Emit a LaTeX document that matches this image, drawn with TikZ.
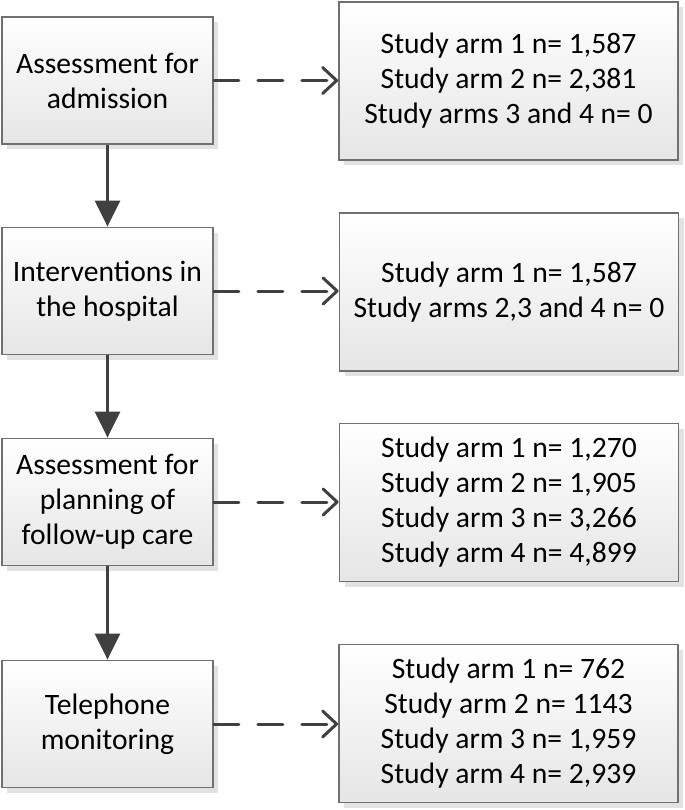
\documentclass[tikz,border=0pt]{standalone}
\usepackage{fontspec}
\setmainfont{Carlito}
\usetikzlibrary{arrows.meta,shadows}
\definecolor{boxline}{HTML}{707070}
\definecolor{arrowcol}{HTML}{404040}
\definecolor{shadowcol}{HTML}{E2E2E2}
\begin{document}
\begin{tikzpicture}[x=0.5pt,y=-0.5pt,
  basebox/.style={draw=boxline, line width=0.9pt, rectangle, inner sep=0pt,
    top color=white, bottom color=black!10, align=center,
    font=\fontsize{14.8pt}{17.5pt}\selectfont,
    drop shadow={shadow xshift=2.5pt, shadow yshift=-2.5pt, fill=shadowcol, opacity=1}},
  leftbox/.style={basebox, minimum width=105.5pt, minimum height=63.5pt},
  rightbox/.style={basebox, minimum width=169.5pt, minimum height=79pt},
  vflow/.style={draw=arrowcol, fill=arrowcol, line width=1.5pt, -{Triangle[length=13pt,width=12.5pt]}},
  dflow/.style={draw=arrowcol, line width=1.5pt, line cap=round, dash pattern=on 12.5pt off 9.5pt,
    -{Straight Barb[length=7pt,width=13pt,line cap=round,line join=round]}}
]
\useasboundingbox (0,0) rectangle (685,810);

\node[leftbox] (l1) at (107.5,80.5) {Assessment for\\admission};
\node[leftbox] (l2) at (107.5,291) {Interventions in\\the hospital};
\node[leftbox] (l3) at (107.5,502) {Assessment for\\planning of\\follow-up care};
\node[leftbox] (l4) at (107.5,724) {Telephone\\monitoring};

\node[rightbox] (r1) at (508.5,81) {Study arm 1 n= 1,587\\Study arm 2 n= 2,381\\Study arms 3 and 4 n= 0};
\node[rightbox] (r2) at (509,292) {Study arm 1 n= 1,587\\Study arms 2,3 and 4 n= 0};
\node[rightbox] (r3) at (509,502.5) {Study arm 1 n= 1,270\\Study arm 2 n= 1,905\\Study arm 3 n= 3,266\\Study arm 4 n= 4,899};
\node[rightbox] (r4) at (508.5,723.5) {Study arm 1 n= 762\\Study arm 2 n= 1143\\Study arm 3 n= 1,959\\Study arm 4 n= 2,939};

\draw[vflow] (l1.south) -- (l2.north);
\draw[vflow] (l2.south) -- (l3.north);
\draw[vflow] (l3.south) -- (l4.north);

\draw[dflow] (l1.east) -- (l1.east -| r1.west);
\draw[dflow] (l2.east) -- (l2.east -| r2.west);
\draw[dflow] (l3.east) -- (l3.east -| r3.west);
\draw[dflow] (l4.east) -- (l4.east -| r4.west);
\end{tikzpicture}
\end{document}
